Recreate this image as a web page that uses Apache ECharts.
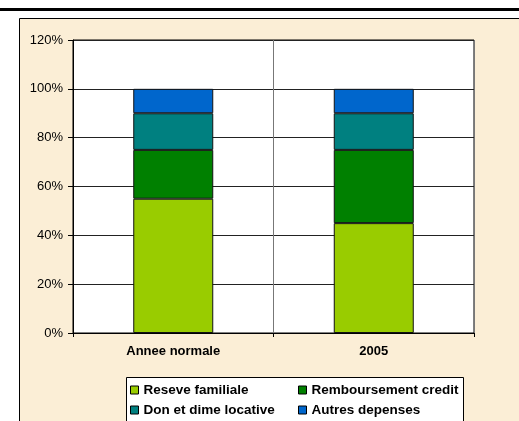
<!DOCTYPE html>
<html>
<head>
<meta charset="utf-8">
<script src="https://cdn.jsdelivr.net/npm/echarts@6/dist/echarts.min.js"></script>
<style>
  html, body { margin: 0; padding: 0; background: #fff; }
  #chart { width: 519px; height: 421px; }
</style>
</head>
<body>
<div id="chart"></div>
<script>
// categories and series (percent shares)
const categories = ['Annee normale', '2005'];
const reserveFamiliale = [55, 45];
const remboursementCredit = [20, 30];
const donDime = [15, 15];
const autresDepenses = [10, 10];
const yTicks = [0, 20, 40, 60, 80, 100, 120];

const seriesNames = ['Reseve familiale', 'Remboursement credit', 'Don et dime locative', 'Autres depenses'];
const seriesColors = ['#99CC00', '#008000', '#008080', '#0066CC'];
const seriesData = [reserveFamiliale, remboursementCredit, donDime, autresDepenses];

// legend slots: [left, top] for each series, two columns
const legendPos = [[130, 383], [298, 383], [130, 403], [298, 403]];

const chart = echarts.init(document.getElementById('chart'));

const legendText = { fontFamily: 'Arial, Liberation Sans', fontSize: 13.5, fontWeight: 'bold', color: '#000' };

let option = {
  animation: false,
  backgroundColor: '#fff',
  graphic: [
    // rule under the cut caption
    { type: 'rect', shape: { x: 0, y: 8, width: 519, height: 3 }, style: { fill: '#000' }, z: -10 },
    // beige chart area
    { type: 'rect', shape: { x: 19.5, y: 18.5, width: 520, height: 420 },
      style: { fill: '#FBEED6', stroke: '#000', lineWidth: 1 }, z: -10 },
    // legend box
    { type: 'rect', shape: { x: 126.5, y: 377.5, width: 337, height: 60 },
      style: { fill: '#fff', stroke: '#000', lineWidth: 1 }, z: 1 }
  ],
  legend: seriesNames.map(function (name, i) {
    return {
      data: [name],
      left: legendPos[i][0], top: legendPos[i][1],
      padding: 0,
      icon: 'rect',
      itemWidth: 8, itemHeight: 8, itemGap: 4,
      itemStyle: { borderColor: '#000', borderWidth: 1 },
      textStyle: legendText, z: 5
    };
  }),
  grid: {
    left: 73, top: 40, right: 45, bottom: 88, containLabel: false,
    show: true, backgroundColor: '#fff', borderColor: '#000', borderWidth: 1
  },
  xAxis: {
    type: 'category',
    data: categories,
    axisLine: { lineStyle: { color: '#000', width: 1 } },
    axisTick: { show: true, length: 4, interval: 0, lineStyle: { color: '#000' } },
    axisLabel: { fontFamily: 'Arial, Liberation Sans', fontSize: 13, fontWeight: 'bold', color: '#000', margin: 12 },
    splitLine: { show: true, interval: 0, lineStyle: { color: '#777', width: 1 } }
  },
  yAxis: {
    type: 'value',
    min: yTicks[0], max: yTicks[yTicks.length - 1], interval: 20,
    axisLine: { show: true, lineStyle: { color: '#000' } },
    axisTick: { show: true, length: 5, lineStyle: { color: '#000' } },
    axisLabel: { formatter: '{value}%', fontFamily: 'Arial, Liberation Sans', fontSize: 13, color: '#000', margin: 10 },
    splitLine: { show: true, lineStyle: { color: '#222', width: 1 } }
  },
  series: seriesNames.map(function (name, i) {
    return {
      name: name,
      type: 'bar',
      stack: 'total',
      data: seriesData[i],
      barWidth: 80,
      itemStyle: { color: seriesColors[i], borderColor: '#111', borderWidth: 1 },
      z: 3
    };
  })
};
chart.setOption(option);
</script>
</body>
</html>
